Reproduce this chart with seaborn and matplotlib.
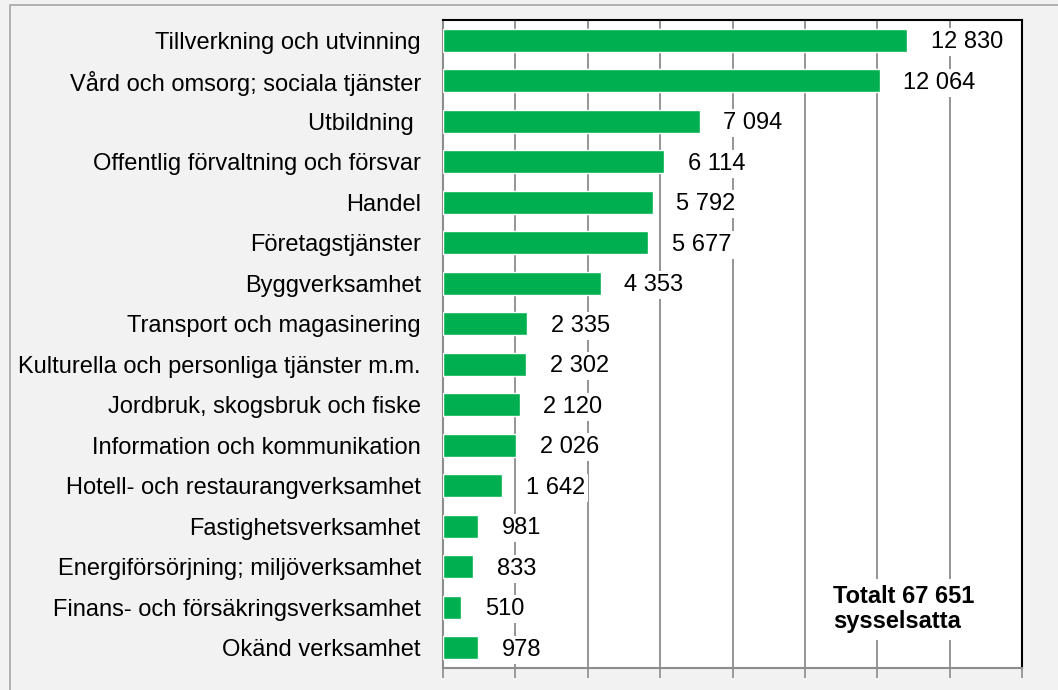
import matplotlib
matplotlib.use("Agg")
import matplotlib.pyplot as plt
import matplotlib.patches as mpatches
import seaborn as sns
import pandas as pd
import numpy as np

# Data
branscher = [
    "Tillverkning och utvinning",
    "Vård och omsorg; sociala tjänster",
    "Utbildning ",
    "Offentlig förvaltning och försvar",
    "Handel",
    "Företagstjänster",
    "Byggverksamhet",
    "Transport och magasinering",
    "Kulturella och personliga tjänster m.m.",
    "Jordbruk, skogsbruk och fiske",
    "Information och kommunikation",
    "Hotell- och restaurangverksamhet",
    "Fastighetsverksamhet",
    "Energiförsörjning; miljöverksamhet",
    "Finans- och försäkringsverksamhet",
    "Okänd verksamhet",
]
sysselsatta = [12830, 12064, 7094, 6114, 5792, 5677, 4353, 2335, 2302, 2120,
               2026, 1642, 981, 833, 510, 978]
total_text = "Totalt 67 651\nsysselsatta"

df = pd.DataFrame({"bransch": branscher, "antal": sysselsatta})

sns.set_style("white")
plt.rcParams["font.family"] = ["Liberation Sans", "DejaVu Sans"]
plt.rcParams["text.color"] = "black"

fs = 17

fig = plt.figure(figsize=(10.58, 6.90), dpi=100)
fig.patch.set_facecolor("#f2f2f2")
ax = fig.add_axes([443 / 1058, 1 - 668 / 690, (1022 - 443) / 1058, (668 - 20) / 690])
ax.set_facecolor("white")

# ram runt figuren
fig.patches.append(mpatches.Rectangle((10 / 1058, -0.1), 1.2, 0.1 + 1 - 5 / 690,
                                      transform=fig.transFigure, fill=False,
                                      edgecolor="#a6a6a6", linewidth=1.2))

sns.barplot(data=df, y="bransch", x="antal", orient="h", color="#00b050",
            saturation=1, width=0.58, ax=ax, zorder=3)

ax.set_xlim(0, 16000)
ax.set_ylim(len(branscher) - 0.5, -0.5)
ax.set_xticks(np.arange(0, 16001, 2000))
ax.set_xticklabels([])
ax.xaxis.grid(True, color="#8c8c8c", linewidth=1.3, zorder=0)
ax.set_axisbelow(True)
ax.set_xlabel("")
ax.set_ylabel("")

ax.set_yticks(range(len(branscher)))
ax.set_yticklabels(branscher, fontsize=fs, color="black")
ax.set_yticks(np.arange(-0.5, len(branscher), 1), minor=True)
ax.tick_params(axis="y", which="major", length=0, pad=16)
ax.tick_params(axis="y", which="minor", length=6, width=1.2, color="#8c8c8c", direction="out")
ax.tick_params(axis="x", length=7, width=1.2, color="#8c8c8c", direction="out", bottom=True)

for s in ["left", "bottom"]:
    ax.spines[s].set_color("#8c8c8c")
    ax.spines[s].set_linewidth(1.5)
for s in ["right", "top"]:
    ax.spines[s].set_color("black")
    ax.spines[s].set_linewidth(1.5)

for i, v in enumerate(sysselsatta):
    ax.text(v + 650, i + 0.05, f"{v:,}".replace(",", " "), va="center", ha="left",
            fontsize=fs, color="black", zorder=5,
            bbox=dict(facecolor="white", edgecolor="none", pad=2))

ax.text(10780, 14.05, total_text, ha="left", va="center", multialignment="left",
        fontsize=fs, fontweight="bold", color="black", linespacing=1.1, zorder=5,
        bbox=dict(facecolor="white", edgecolor="none", pad=5))

fig.savefig("out.png", dpi=100, facecolor=fig.get_facecolor())
